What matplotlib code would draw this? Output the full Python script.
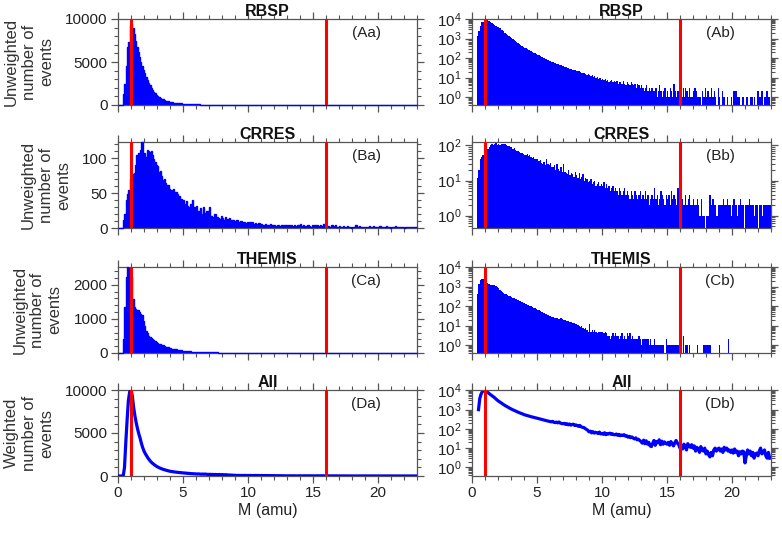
import numpy as np
import matplotlib
matplotlib.use("Agg")
import matplotlib.pyplot as plt
from matplotlib.ticker import MultipleLocator, AutoMinorLocator, LogLocator, NullFormatter

plt.rcParams['font.family'] = ['Liberation Sans', 'DejaVu Sans']

BIN_WIDTH = 0.1  # amu

rbsp_counts = [
    0, 0, 0, 0, 1300, 2400, 4500, 6800, 7300, 9300,
    9400, 9000, 8200, 7500, 6800, 6200, 5600, 5000, 4500, 4100,
    3700, 3300, 2900, 2600, 2300, 2000, 1800, 1550, 1350, 1200,
    1050, 920, 820, 730, 650, 580, 520, 470, 420, 380,
    345, 315, 290, 265, 245, 225, 205, 190, 175, 160,
    148, 137, 127, 117, 108, 100, 93, 86, 80, 74,
    69, 64, 60, 58, 53, 50, 47, 46, 42, 40,
    38, 35, 34, 31, 30, 29, 27, 26, 24, 25,
    22, 21, 22, 19, 18, 17, 18, 15, 14, 15,
    14, 12, 13, 11, 12, 10, 11, 9, 10, 8,
    9, 8, 9, 7, 8, 6, 7, 8, 6, 7,
    6, 7, 5, 6, 6, 5, 7, 5, 4, 6,
    5, 4, 6, 5, 4, 5, 3, 5, 4, 3,
    4, 3, 2, 3, 4, 2, 3, 2, 3, 2,
    2, 3, 1, 2, 4, 2, 1, 2, 3, 1,
    2, 1, 3, 2, 1, 5, 2, 1, 2, 1,
    2, 1, 3, 1, 3, 2, 1, 3, 1, 1,
    2, 3, 2, 1, 1, 1, 0, 2, 1, 3,
    1, 2, 1, 1, 3, 1, 2, 1, 0, 3,
    1, 0, 2, 1, 1, 0, 1, 0, 0, 1,
    0, 2, 2, 2, 1, 1, 0, 0, 1, 0,
    0, 1, 0, 0, 1, 1, 0, 1, 0, 2,
    2, 1, 2, 2, 0, 1, 2, 2, 1, 0,
]

crres_counts = [
    0, 0, 0, 0, 12, 20, 40, 48, 55, 70,
    78, 77, 79, 90, 105, 107, 100, 112, 123, 102,
    107, 102, 112, 110, 108, 110, 105, 98, 95, 90,
    88, 80, 82, 75, 68, 70, 64, 60, 62, 56,
    55, 54, 56, 50, 52, 48, 45, 46, 42, 40,
    40, 35, 38, 32, 30, 34, 28, 40, 30, 27,
    32, 25, 24, 28, 20, 30, 22, 19, 25, 18,
    30, 17, 16, 15, 20, 14, 16, 15, 13, 17,
    14, 12, 16, 11, 13, 15, 10, 12, 11, 9,
    10, 11, 8, 9, 10, 7, 8, 9, 7, 8,
    7, 9, 6, 8, 6, 7, 5, 6, 7, 5,
    6, 5, 4, 6, 5, 4, 5, 6, 4, 5,
    4, 3, 5, 4, 3, 5, 4, 3, 4, 5,
    3, 4, 3, 5, 3, 4, 2, 3, 4, 3,
    6, 3, 4, 2, 3, 5, 4, 3, 2, 4,
    3, 4, 2, 5, 3, 4, 3, 2, 6, 3,
    2, 3, 2, 2, 4, 2, 3, 4, 2, 2,
    3, 2, 2, 3, 2, 1, 3, 1, 1, 0,
    1, 1, 4, 4, 2, 3, 2, 2, 1, 2,
    2, 2, 2, 3, 2, 2, 3, 2, 2, 1,
    2, 3, 2, 2, 1, 2, 3, 2, 2, 0,
    2, 2, 2, 3, 2, 2, 2, 1, 2, 2,
    0, 2, 2, 1, 2, 2, 2, 2, 2, 2,
]

themis_counts = [
    0, 0, 0, 0, 410, 1340, 2230, 2520, 2500, 2450,
    2230, 1590, 1340, 1300, 1270, 1250, 1200, 1150, 1100, 950,
    800, 650, 580, 510, 470, 440, 400, 370, 340, 310,
    290, 270, 255, 240, 225, 210, 190, 175, 165, 150,
    140, 130, 120, 110, 103, 96, 88, 82, 76, 70,
    65, 60, 56, 52, 48, 45, 41, 38, 35, 32,
    30, 28, 27, 25, 26, 24, 23, 22, 24, 21,
    20, 19, 18, 18, 17, 15, 16, 14, 13, 12,
    12, 11, 10, 9, 10, 8, 7, 8, 6, 5,
    12, 5, 6, 5, 6, 5, 4, 5, 5, 5,
    5, 4, 5, 4, 3, 3, 2, 3, 4, 3,
    4, 3, 3, 2, 3, 4, 2, 3, 2, 4,
    3, 4, 2, 3, 2, 2, 2, 2, 3, 2,
    1, 2, 2, 2, 2, 2, 1, 2, 1, 1,
    2, 1, 1, 1, 1, 1, 1, 1, 0, 2,
    1, 1, 1, 1, 1, 1, 1, 1, 1, 1,
    0, 0, 3, 0, 1, 1, 0, 1, 0, 0,
    0, 0, 0, 1, 0, 0, 0, 0, 1, 1,
    1, 1, 1, 1, 0, 0, 0, 0, 0, 0,
    1, 0, 0, 0, 0, 0, 0, 2, 0, 0,
    0, 0, 0, 0, 0, 0, 0, 0, 0, 0,
    0, 0, 0, 0, 0, 0, 0, 0, 0, 0,
    0, 0, 0, 0, 0, 0, 0, 0, 0, 0,
]

all_weighted = [
    0, 0, 0, 0, 0, 1000, 3900, 6500, 8800, 9800,
    10000, 9300, 8000, 7000, 6200, 5500, 4900, 4400, 3800, 3300,
    2900, 2600, 2350, 2100, 1900, 1700, 1550, 1420, 1300, 1190,
    1090, 1010, 940, 870, 810, 760, 710, 670, 630, 595,
    550, 525, 500, 480, 460, 440, 420, 405, 390, 375,
    360, 345, 330, 318, 305, 292, 280, 270, 260, 250,
    240, 232, 245, 220, 212, 225, 205, 228, 198, 190,
    185, 192, 172, 186, 162, 180, 156, 168, 175, 150,
    160, 148, 135, 150, 128, 120, 118, 105, 95, 85,
    70, 76, 62, 72, 60, 66, 63, 57, 68, 55,
    58, 52, 63, 50, 57, 54, 60, 52, 56, 50,
    49, 54, 46, 52, 44, 48, 45, 50, 42, 44,
    37, 41, 35, 38, 33, 30, 34, 27, 29, 25,
    22, 18, 26, 17, 24, 16, 20, 13, 12, 18,
    25, 14, 22, 19, 27, 15, 23, 16, 21, 18,
    16, 20, 14, 22, 17, 13, 19, 25, 18, 15,
    10, 14, 9, 16, 12, 8, 17, 13, 11, 15,
    10, 13, 7, 11, 9, 6, 12, 8, 7, 10,
    5, 7, 4.5, 3.5, 6, 4, 8, 10, 7, 9,
    10, 7, 9, 6, 11, 8, 10, 7, 8, 6,
    8, 5.5, 9, 6, 7, 4, 6.5, 5, 7, 6.5,
    1.7, 4, 8, 5, 7, 4, 6, 3, 5, 5.5,
    4, 7, 10, 5, 6, 8, 4, 3, 6, 3,
]

titles = ["RBSP", "CRRES", "THEMIS", "All"]
panel_tags = [("(Aa)", "(Ab)"), ("(Ba)", "(Bb)"), ("(Ca)", "(Cb)"), ("(Da)", "(Db)")]
ylabels = ["Unweighted\nnumber of\nevents"] * 3 + ["Weighted\nnumber of\nevents"]
lin_ylims = [(0, 10000), (0, 123), (0, 2520), (0, 10000)]
lin_major = [5000, 50, 1000, 5000]
log_ylims = [(10 ** -0.4, 1e4), (10 ** -0.35, 125), (10 ** -0.4, 1e4), (10 ** -0.45, 1.05e4)]
ref_masses = [1, 16]
XMAX = 23

hist_sets = [rbsp_counts, crres_counts, themis_counts]

W, H = 782, 533
fig = plt.figure(figsize=(W / 100, H / 100), dpi=100)

col_left = [118, 472]
col_w = 299
row_tops = [19, 142, 267, 390]
row_h = 86

SPINE = "#555555"
BLUE = "#0000ff"

axes = []
for r in range(4):
    for c in range(2):
        ax = fig.add_axes([col_left[c] / W, 1 - (row_tops[r] + row_h) / H, col_w / W, row_h / H])
        axes.append((r, c, ax))

for r, c, ax in axes:
    if r < 3:
        counts = np.array(hist_sets[r], dtype=float)
        edges = np.arange(len(counts) + 1) * BIN_WIDTH
        if c == 0:
            ax.stairs(counts, edges, fill=True, baseline=0, color=BLUE, linewidth=0, zorder=2)
            ax.stairs(counts, edges, fill=False, baseline=None, color=BLUE, linewidth=1.0,
                      zorder=2.6, clip_on=False)
        else:
            vals = np.where(counts > 0, counts, 0.01)
            ax.stairs(vals, edges, fill=True, baseline=0.01, color=BLUE, linewidth=0.5, zorder=2)
    else:
        vals = np.array(all_weighted, dtype=float)
        xs = np.arange(len(vals)) * BIN_WIDTH
        if c == 0:
            ax.plot(xs, vals, color=BLUE, lw=2.3, zorder=2.6)
        else:
            ax.plot(xs, np.where(vals > 0, vals, np.nan), color=BLUE, lw=2.3, zorder=2)

    for m in ref_masses:
        ax.axvline(m, color="red", lw=2.2, zorder=3)

    ax.set_xlim(0, XMAX)
    ax.xaxis.set_major_locator(MultipleLocator(5))
    ax.xaxis.set_minor_locator(MultipleLocator(1))

    if c == 0:
        ax.set_ylim(*lin_ylims[r])
        ax.yaxis.set_major_locator(MultipleLocator(lin_major[r]))
        ax.yaxis.set_minor_locator(AutoMinorLocator(5))
        ax.set_ylabel(ylabels[r], fontsize=12, color="#333333", labelpad=8, linespacing=1.2)
    else:
        ax.set_yscale("log")
        ax.set_ylim(*log_ylims[r])
        ax.yaxis.set_major_locator(LogLocator(base=10, numticks=10))
        ax.yaxis.set_minor_locator(LogLocator(base=10, subs=np.arange(2, 10), numticks=20))
        ax.yaxis.set_minor_formatter(NullFormatter())

    ax.tick_params(which="both", direction="out", top=True, right=True, colors=SPINE,
                   labelcolor="#222222", labelsize=11)
    ax.tick_params(which="major", length=5, width=0.9, pad=2.5)
    ax.tick_params(which="minor", length=3, width=0.8)
    for s in ax.spines.values():
        s.set_color(SPINE)
        s.set_linewidth(0.9)

    if r < 3:
        ax.tick_params(labelbottom=False)
    else:
        ax.set_xlabel("M (amu)", fontsize=11.5, color="#222222", labelpad=2)

    ax.set_title(titles[r], fontsize=11.5, fontweight="bold", pad=0.5, color="#111111")
    ax.text(0.83, 0.84, panel_tags[r][c], transform=ax.transAxes, ha="center", va="center",
            fontsize=11, color="#222222")

fig.savefig("out.png", dpi=100)
